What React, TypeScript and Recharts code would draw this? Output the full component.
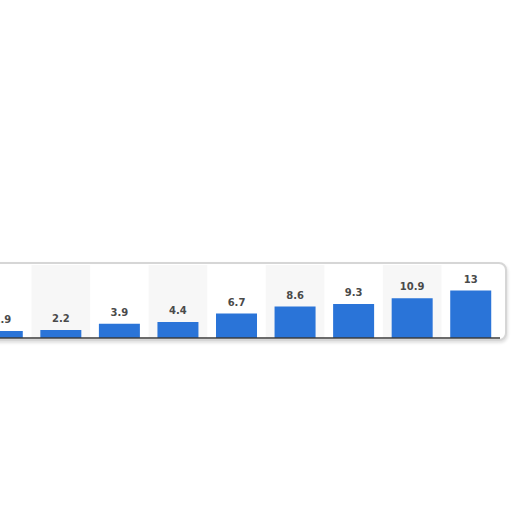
import React from 'react';
import { BarChart, Bar, XAxis, YAxis, LabelList, ReferenceArea } from 'recharts';

const categories = ['c1', 'c2', 'c3', 'c4', 'c5', 'c6', 'c7', 'c8', 'c9'];
const values = [1.9, 2.2, 3.9, 4.4, 6.7, 8.6, 9.3, 10.9, 13];
const stripedCategories = ['c2', 'c4', 'c6', 'c8'];

const data = categories.map((name, i) => ({ name, value: values[i] }));

export default function App() {
  return (
    <div style={{ position: 'absolute', left: 0, top: 0, width: 512, height: 512, overflow: 'hidden', background: '#fff' }}>
      <div
        style={{
          position: 'absolute',
          left: -20,
          top: 262,
          width: 527,
          height: 79,
          border: '2px solid #d6d6d6',
          borderRadius: 8,
          boxShadow: '1px 2px 3px rgba(0,0,0,0.12)',
          boxSizing: 'border-box',
          background: '#fff',
        }}
      />
      <div style={{ position: 'absolute', left: -27, top: 0 }}>
        <BarChart
          width={527}
          height={340}
          data={data}
          margin={{ top: 265, right: 0, bottom: 0, left: 0 }}
          barCategoryGap="15%"
        >
          {stripedCategories.map((c) => (
            <ReferenceArea key={c} x1={c} x2={c} fill="#f7f7f7" fillOpacity={1} stroke="none" ifOverflow="visible" />
          ))}
          <XAxis
            dataKey="name"
            tick={false}
            tickLine={false}
            height={2}
            axisLine={{ stroke: '#3a3a3a', strokeWidth: 1.5 }}
          />
          <YAxis hide domain={[0, 20]} />
          <Bar dataKey="value" fill="#2a74d8" isAnimationActive={false}>
            <LabelList
              dataKey="value"
              position="top"
              offset={8}
              style={{ fontFamily: 'DejaVu Sans', fontSize: 10, fontWeight: 'bold', fill: '#4a4a4a' }}
            />
          </Bar>
        </BarChart>
      </div>
    </div>
  );
}
